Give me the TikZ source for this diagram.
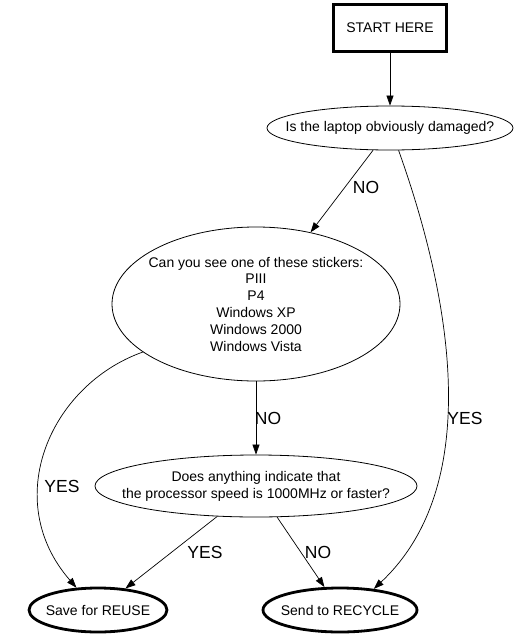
\documentclass[tikz,border=0pt]{standalone}
\usepackage{fontspec}
\setmainfont{Liberation Sans}
\usetikzlibrary{positioning, arrows.meta, shapes.geometric}

\begin{document}
\begin{tikzpicture}[x=1pt, y=-1pt,
    every node/.style={font=\fontsize{14}{17}\selectfont},
    startbox/.style={draw, line width=2.8pt, minimum width=113pt, minimum height=47pt},
    question/.style={draw, ellipse, line width=0.8pt, inner sep=-30pt, align=center},
    outcome/.style={draw, ellipse, line width=2.8pt, inner sep=-30pt, minimum height=44pt},
    flow/.style={line width=0.7pt, -{Triangle[length=10pt, width=7pt]}},
    answer/.style={font=\fontsize{17.5}{20}\selectfont}]
  \useasboundingbox (0,0) rectangle (521,640);
  % boxes and questions
  \node[startbox] (start) at (390,28) {START HERE};
  \node[question, minimum width=246pt, minimum height=44pt] (damaged) at (390,128)
      {Is the laptop obviously damaged?};
  \node[question, minimum width=288pt, minimum height=154pt,
        font=\fontsize{14}{16.8}\selectfont] (stickers) at (256,304)
      {Can you see one of these stickers:\\PIII\\P4\\Windows XP\\Windows 2000\\Windows Vista};
  \node[question, minimum width=322pt, minimum height=62pt] (speed) at (256,486)
      {Does anything indicate that\\the processor speed is 1000MHz or faster?};
  % outcomes
  \node[outcome, minimum width=138pt] (reuse) at (98,610) {Save for REUSE};
  \node[outcome, minimum width=154pt] (recycle) at (340,610) {Send to RECYCLE};
  % edges
  \draw[flow] (start) -- (damaged);
  \draw[flow] (damaged) -- (stickers);
  \draw[flow] (damaged.-69) .. controls (445,280) and (490,480) .. (recycle.32);
  \draw[flow] (stickers) -- (speed);
  \draw[flow] (stickers.-157) .. controls (50,385) and (0,500) .. (reuse.134);
  \draw[flow] (speed) -- (reuse);
  \draw[flow] (speed) -- (recycle);
  % edge labels
  \node[answer] (noDamage) at (366,187) {NO};
  \node[answer] (yesDamage) at (465,418) {YES};
  \node[answer] (noSticker) at (268,418) {NO};
  \node[answer] (yesSticker) at (62,486) {YES};
  \node[answer] (yesSpeed) at (205,552) {YES};
  \node[answer] (noSpeed) at (318,552) {NO};
\end{tikzpicture}
\end{document}
